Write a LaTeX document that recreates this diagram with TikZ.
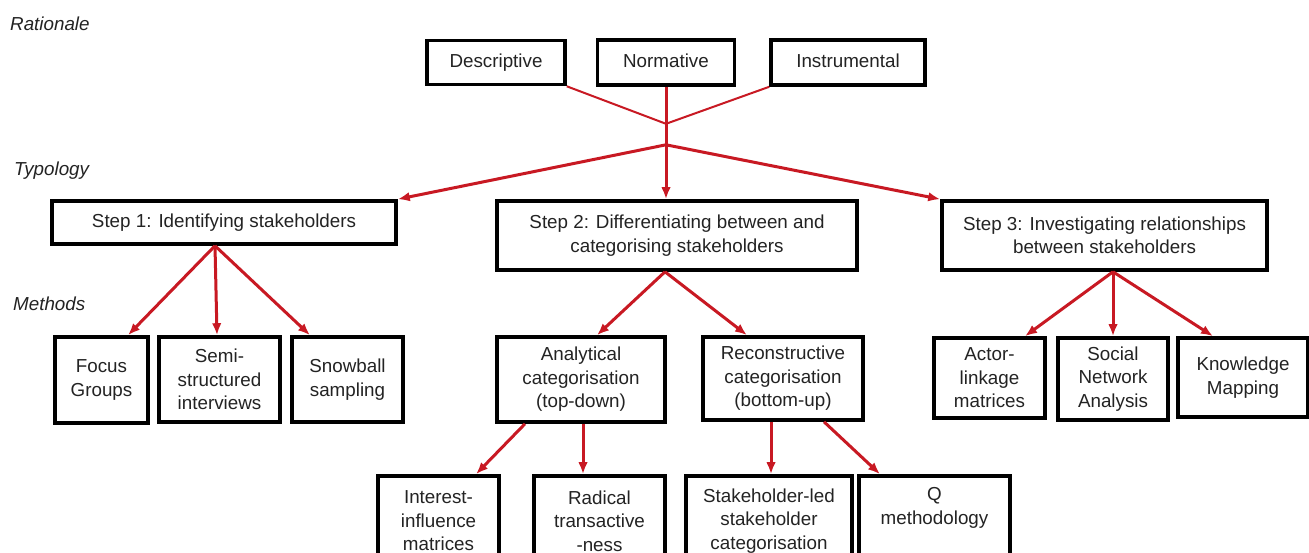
\documentclass[tikz,border=0pt]{standalone}
\usepackage{fontspec}
\setmainfont{Liberation Sans}
\usetikzlibrary{arrows.meta,calc}
\definecolor{arrred}{RGB}{200,25,35}
\definecolor{txt}{RGB}{35,35,35}
\begin{document}
\begin{tikzpicture}[x=1pt,y=-1pt,
  box/.style={draw=black,line width=3.6pt,align=center,inner sep=0pt,text=txt,font=\fontsize{18.8}{23.5}\selectfont},
  onel/.style={text height=13.5pt,text depth=4pt},
  arr/.style={draw=arrred,line width=3pt,-{Latex[length=12pt,width=9.5pt]}},
  thinl/.style={draw=arrred,line width=2pt},
  lab/.style={font=\fontsize{18.8}{23.5}\selectfont\itshape,text=txt,anchor=west,inner sep=0pt}]
\useasboundingbox (0,0) rectangle (1309,553);
\fill[white] (0,0) rectangle (1309,553);

% section labels
\node[lab] (rat) at (10,24) {Rationale};
\node[lab] (typ) at (14,171) {Typology};
\node[lab] (met) at (13,304) {Methods};

% rationale row
\node[box,onel,minimum width=138pt,minimum height=44pt] (desc) at (496,62.5) {Descriptive};
\node[box,onel,minimum width=137pt,minimum height=45pt] (norm) at (666,62.5) {Normative};
\node[box,onel,minimum width=154pt,minimum height=45pt] (instr) at (848,62.5) {Instrumental};

% steps
\node[box,onel,minimum width=344pt,minimum height=43pt] (step1) at (224,222.5) {Step 1: Identifying stakeholders};
\node[box,minimum width=360pt,minimum height=69pt] (step2) at (677,235.5) {Step 2: Differentiating between and\\categorising stakeholders};
\node[box,minimum width=325pt,minimum height=69pt] (step3) at (1104.5,235.5) {Step 3: Investigating relationships\\between stakeholders};

% methods row
\node[box,minimum width=93pt,minimum height=86pt] (focus) at (101.5,380) {Focus\\Groups};
\node[box,minimum width=121pt,minimum height=85pt] (semi) at (219.5,379.5) {Semi-\\structured\\interviews};
\node[box,minimum width=111pt,minimum height=85pt] (snow) at (347.5,379.5) {Snowball\\sampling};
\node[box,minimum width=168pt,minimum height=85pt] (anal) at (581,379.5) {Analytical\\categorisation\\(top-down)};
\node[box,minimum width=160pt,minimum height=83pt] (recon) at (783,378.5) {Reconstructive\\categorisation\\(bottom-up)};
\node[box,minimum width=111pt,minimum height=80pt] (actor) at (989.5,378) {Actor-\\linkage\\matrices};
\node[box,minimum width=110pt,minimum height=82pt] (social) at (1113,379) {Social\\Network\\Analysis};
\node[box,minimum width=130pt,minimum height=79pt] (know) at (1243,377.5) {Knowledge\\Mapping};

% bottom row (cut by the page edge)
\node[box,minimum width=121pt,minimum height=90pt] (inter) at (438.5,521) {Interest-\\influence\\matrices};
\node[box,minimum width=131pt,minimum height=90pt] (radical) at (599.5,521) {Radical\\transactive\\-ness};
\node[box,minimum width=166pt,minimum height=90pt] (sled) at (769,521) {Stakeholder-led\\stakeholder\\categorisation};
\node[box,minimum width=151pt,minimum height=90pt] (qmeth) at (934.5,521) {Q\\methodology\\\strut};

% junctions
\coordinate (j1) at ($(norm.south)+(0,37)$);
\coordinate (j2) at ($(norm.south)+(0,58)$);

% connectors
\draw[thinl] (desc.south east) -- (j1);
\draw[thinl] (instr.south west) -- (j1);
\draw[arr] (norm.south) -- (norm.south |- step2.north);
\draw[arr] (j2) -- (step1.north east);
\draw[arr] (j2) -- (step3.north west);

\draw[arr] ([xshift=-9pt]step1.south) -- ([xshift=26.5pt]focus.north);
\draw[arr] ([xshift=-9pt]step1.south) -- ([xshift=-2.5pt]semi.north);
\draw[arr] ([xshift=-9pt]step1.south) -- ([xshift=-37.5pt]snow.north);

\draw[arr] ([xshift=-12pt]step2.south) -- ([xshift=16pt]anal.north);
\draw[arr] ([xshift=-12pt]step2.south) -- ([xshift=-36pt]recon.north);

\draw[arr] ([xshift=-56pt]anal.south) -- ([xshift=37.5pt]inter.north);
\draw[arr] ([xshift=2pt]anal.south) -- ([xshift=-16.5pt]radical.north);
\draw[arr] ([xshift=-12pt]recon.south) -- ([xshift=2pt]sled.north);
\draw[arr] ([xshift=41pt]recon.south) -- ([xshift=-54.5pt]qmeth.north);

\draw[arr] ([xshift=8.5pt]step3.south) -- ([xshift=35.5pt]actor.north);
\draw[arr] ([xshift=8.5pt]step3.south) -- (social.north);
\draw[arr] ([xshift=8.5pt]step3.south) -- ([xshift=-30pt]know.north);
\end{tikzpicture}
\end{document}
